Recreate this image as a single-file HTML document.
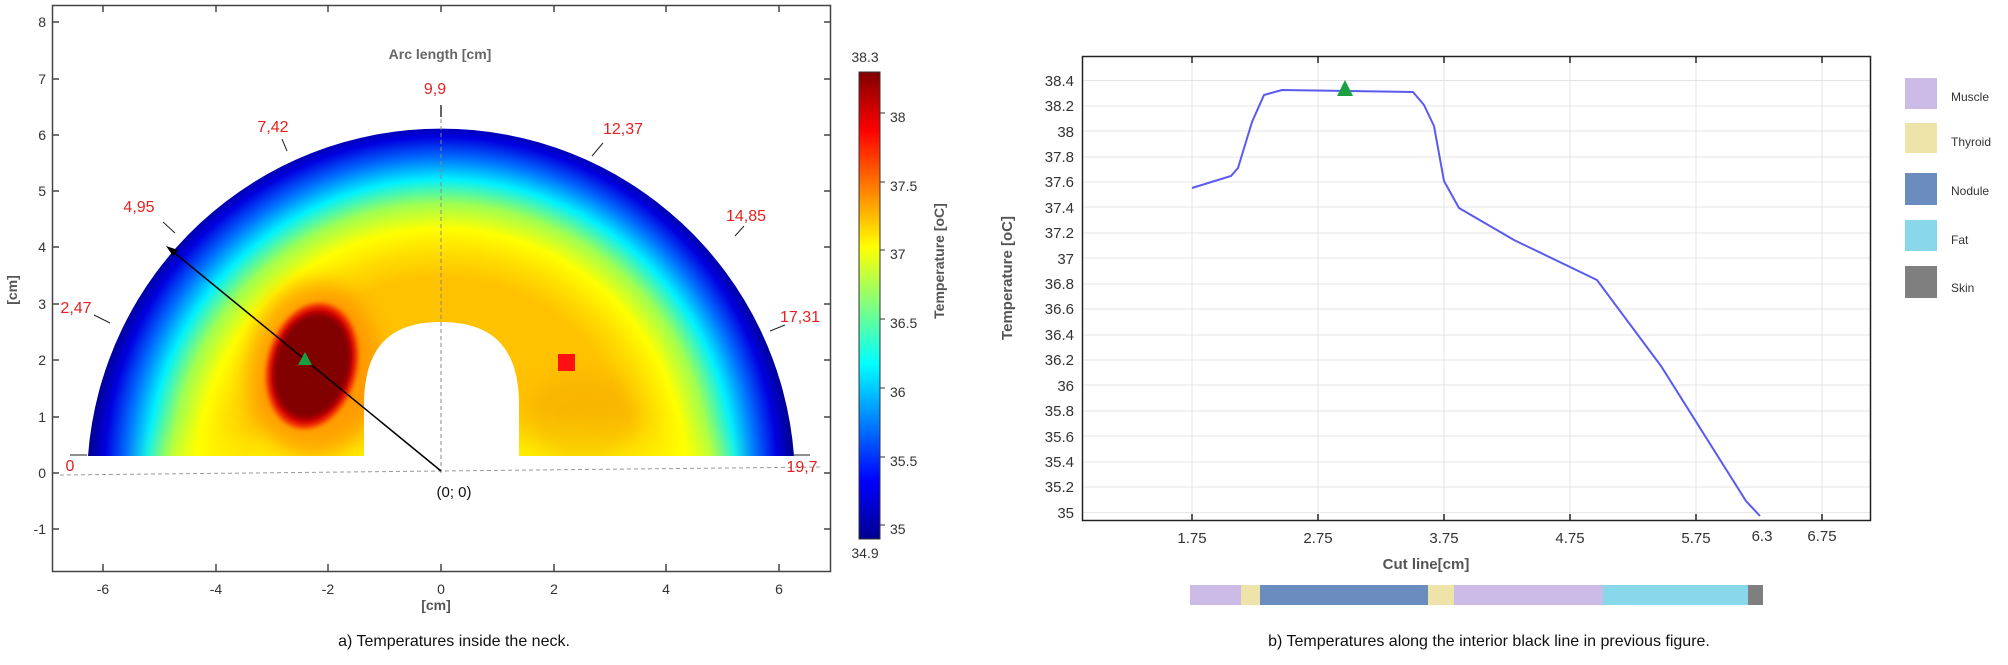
<!DOCTYPE html>
<html><head><meta charset="utf-8"><style>
html,body{margin:0;padding:0;background:#fff}
svg text{font-family:"Liberation Sans",sans-serif}
</style></head><body>
<svg width="2008" height="660" viewBox="0 0 2008 660" xmlns="http://www.w3.org/2000/svg">
<defs>
<radialGradient id="rg" gradientUnits="userSpaceOnUse" cx="441" cy="473" r="354">
<stop offset="0" stop-color="#ffc000"/>
<stop offset="0.55" stop-color="#ffc200"/>
<stop offset="0.62" stop-color="#ffdc00"/>
<stop offset="0.69" stop-color="#ffff00"/>
<stop offset="0.76" stop-color="#a0ff50"/>
<stop offset="0.83" stop-color="#00f0ff"/>
<stop offset="0.89" stop-color="#0070ff"/>
<stop offset="0.95" stop-color="#0000e0"/>
<stop offset="1" stop-color="#00008a"/>
</radialGradient>
<radialGradient id="nod">
<stop offset="0" stop-color="#800000"/>
<stop offset="0.8" stop-color="#820000"/>
<stop offset="0.9" stop-color="#e00000"/>
<stop offset="1" stop-color="#ff5000"/>
</radialGradient>
<linearGradient id="jet" x1="0" y1="1" x2="0" y2="0">
<stop offset="0" stop-color="#00008f"/>
<stop offset="0.125" stop-color="#0000ff"/>
<stop offset="0.375" stop-color="#00ffff"/>
<stop offset="0.625" stop-color="#ffff00"/>
<stop offset="0.875" stop-color="#ff0000"/>
<stop offset="1" stop-color="#800000"/>
</linearGradient>
<filter id="bl" x="-50%" y="-50%" width="200%" height="200%"><feGaussianBlur stdDeviation="10"/></filter>
<filter id="bl3" x="-50%" y="-50%" width="200%" height="200%"><feGaussianBlur stdDeviation="18"/></filter>
<filter id="bl2" x="-50%" y="-50%" width="200%" height="200%"><feGaussianBlur stdDeviation="2"/></filter>
<clipPath id="cp"><path d="M88,456 A354,354 0 0 1 794,456 Z"/></clipPath>
</defs>

<!-- Left plot -->
<rect x="52.5" y="5.5" width="778" height="566" fill="none" stroke="#444" stroke-width="1.5"/>
<g stroke="#444" stroke-width="1.5">
<line x1="103" y1="571" x2="103" y2="564"/><line x1="216" y1="571" x2="216" y2="564"/><line x1="328" y1="571" x2="328" y2="564"/><line x1="441" y1="571" x2="441" y2="564"/><line x1="554" y1="571" x2="554" y2="564"/><line x1="666" y1="571" x2="666" y2="564"/><line x1="779" y1="571" x2="779" y2="564"/>
<line x1="103" y1="5" x2="103" y2="12"/><line x1="216" y1="5" x2="216" y2="12"/><line x1="328" y1="5" x2="328" y2="12"/><line x1="441" y1="5" x2="441" y2="12"/><line x1="554" y1="5" x2="554" y2="12"/><line x1="666" y1="5" x2="666" y2="12"/><line x1="779" y1="5" x2="779" y2="12"/>
</g>
<g stroke="#444" stroke-width="1.5">
<line x1="52" y1="22" x2="59" y2="22"/><line x1="52" y1="79" x2="59" y2="79"/><line x1="52" y1="135" x2="59" y2="135"/><line x1="52" y1="191" x2="59" y2="191"/><line x1="52" y1="247" x2="59" y2="247"/><line x1="52" y1="304" x2="59" y2="304"/><line x1="52" y1="360" x2="59" y2="360"/><line x1="52" y1="417" x2="59" y2="417"/><line x1="52" y1="473" x2="59" y2="473"/><line x1="52" y1="529" x2="59" y2="529"/>
<line x1="831" y1="22" x2="824" y2="22"/><line x1="831" y1="79" x2="824" y2="79"/><line x1="831" y1="135" x2="824" y2="135"/><line x1="831" y1="191" x2="824" y2="191"/><line x1="831" y1="247" x2="824" y2="247"/><line x1="831" y1="304" x2="824" y2="304"/><line x1="831" y1="360" x2="824" y2="360"/><line x1="831" y1="417" x2="824" y2="417"/><line x1="831" y1="473" x2="824" y2="473"/><line x1="831" y1="529" x2="824" y2="529"/>
</g>
<g font-size="14" fill="#333" text-anchor="end">
<text x="46" y="27">8</text><text x="46" y="84">7</text><text x="46" y="140">6</text><text x="46" y="196">5</text><text x="46" y="252">4</text><text x="46" y="309">3</text><text x="46" y="365">2</text><text x="46" y="422">1</text><text x="46" y="478">0</text><text x="46" y="534">-1</text>
</g>
<g font-size="14" fill="#333" text-anchor="middle">
<text x="103" y="594">-6</text><text x="216" y="594">-4</text><text x="328" y="594">-2</text><text x="441" y="594">0</text><text x="554" y="594">2</text><text x="666" y="594">4</text><text x="779" y="594">6</text>
</g>
<text x="436" y="610" font-size="14" font-weight="bold" fill="#555" text-anchor="middle">[cm]</text>
<text transform="translate(17,290) rotate(-90)" font-size="14" font-weight="bold" fill="#555" text-anchor="middle">[cm]</text>

<g clip-path="url(#cp)">
<rect x="80" y="100" width="730" height="360" fill="url(#rg)"/>
<ellipse cx="441" cy="462" rx="290" ry="30" fill="#ffff00" opacity="0.8" filter="url(#bl3)"/>
<ellipse cx="582" cy="417" rx="55" ry="45" fill="#f0a000" opacity="0.35" filter="url(#bl)"/>
<ellipse cx="315" cy="370" rx="66" ry="88" fill="#ff8000" opacity="0.6" filter="url(#bl)"/>
<ellipse cx="312" cy="366" rx="45" ry="64" transform="rotate(14 312 366)" fill="url(#nod)" filter="url(#bl2)"/>
</g>
<path d="M364,457 L364,405 C364,345 392,322 441,322 C490,322 519,345 519,405 L519,457 Z" fill="#fff"/>

<line x1="441" y1="473" x2="441" y2="105" stroke="#888" stroke-width="1" stroke-dasharray="4,3"/>
<line x1="60" y1="475" x2="822" y2="467" stroke="#999" stroke-width="1" stroke-dasharray="4,3"/>
<line x1="441" y1="105" x2="441" y2="117" stroke="#000" stroke-width="1.2"/>
<line x1="441" y1="471" x2="171" y2="250" stroke="#000" stroke-width="1.5"/>
<polygon points="166,246 178,250 173,256" fill="#000"/>
<g stroke="#222" stroke-width="1">
<line x1="282" y1="139" x2="287" y2="151"/><line x1="163" y1="222" x2="175" y2="233"/><line x1="94" y1="315" x2="110" y2="323"/>
<line x1="603" y1="143" x2="592" y2="156"/><line x1="744" y1="226" x2="735" y2="236"/><line x1="785" y1="325" x2="770" y2="331"/>
<line x1="70" y1="455" x2="87" y2="455"/><line x1="794" y1="455" x2="810" y2="455"/>
</g>
<g font-size="16" fill="#e62020">
<text x="435" y="94" text-anchor="middle">9,9</text>
<text x="273" y="132" text-anchor="middle">7,42</text>
<text x="623" y="134" text-anchor="middle">12,37</text>
<text x="139" y="212" text-anchor="middle">4,95</text>
<text x="746" y="221" text-anchor="middle">14,85</text>
<text x="800" y="322" text-anchor="middle">17,31</text>
<text x="76" y="313" text-anchor="middle">2,47</text>
<text x="70" y="471" text-anchor="middle">0</text>
<text x="802" y="472" text-anchor="middle">19,7</text>
</g>
<text x="454" y="497" font-size="15" fill="#111" text-anchor="middle">(0; 0)</text>
<text x="440" y="59" font-size="14" font-weight="bold" fill="#666" text-anchor="middle">Arc length [cm]</text>
<polygon points="305,352 298,365 312,365" fill="#1aa040"/>
<rect x="558" y="354" width="17" height="17" fill="#ff1010"/>

<!-- colorbar -->
<rect x="859" y="72" width="21" height="467" fill="url(#jet)" stroke="#333" stroke-width="1"/>
<text x="865" y="62" font-size="14" fill="#333" text-anchor="middle">38.3</text>
<text x="865" y="558" font-size="14" fill="#333" text-anchor="middle">34.9</text>
<g stroke="#333" stroke-width="1"><line x1="880" y1="113" x2="885" y2="113"/><line x1="880" y1="182" x2="885" y2="182"/><line x1="880" y1="250" x2="885" y2="250"/><line x1="880" y1="319" x2="885" y2="319"/><line x1="880" y1="388" x2="885" y2="388"/><line x1="880" y1="457" x2="885" y2="457"/><line x1="880" y1="525" x2="885" y2="525"/></g>
<g font-size="14" fill="#333">
<text x="890" y="122">38</text><text x="890" y="191">37.5</text><text x="890" y="259">37</text><text x="890" y="328">36.5</text><text x="890" y="397">36</text><text x="890" y="466">35.5</text><text x="890" y="534">35</text>
</g>
<text transform="translate(944,261) rotate(-90)" font-size="14" font-weight="bold" fill="#555" text-anchor="middle">Temperature [oC]</text>

<text x="454" y="646" font-size="16" fill="#111" text-anchor="middle">a) Temperatures inside the neck.</text>

<!-- Right plot -->
<g stroke="#e4e4e4" stroke-width="1">
<line x1="1192" y1="56" x2="1192" y2="521"/><line x1="1318" y1="56" x2="1318" y2="521"/><line x1="1444" y1="56" x2="1444" y2="521"/><line x1="1570" y1="56" x2="1570" y2="521"/><line x1="1696" y1="56" x2="1696" y2="521"/><line x1="1822" y1="56" x2="1822" y2="521"/>
<line x1="1082" y1="80.5" x2="1871" y2="80.5"/><line x1="1082" y1="106" x2="1871" y2="106"/><line x1="1082" y1="131" x2="1871" y2="131"/><line x1="1082" y1="157" x2="1871" y2="157"/><line x1="1082" y1="182" x2="1871" y2="182"/><line x1="1082" y1="207" x2="1871" y2="207"/><line x1="1082" y1="233" x2="1871" y2="233"/><line x1="1082" y1="258" x2="1871" y2="258"/><line x1="1082" y1="284" x2="1871" y2="284"/><line x1="1082" y1="309" x2="1871" y2="309"/><line x1="1082" y1="335" x2="1871" y2="335"/><line x1="1082" y1="360" x2="1871" y2="360"/><line x1="1082" y1="385" x2="1871" y2="385"/><line x1="1082" y1="411" x2="1871" y2="411"/><line x1="1082" y1="436" x2="1871" y2="436"/><line x1="1082" y1="462" x2="1871" y2="462"/><line x1="1082" y1="487" x2="1871" y2="487"/><line x1="1082" y1="512.6" x2="1871" y2="512.6"/>
</g>
<rect x="1082.5" y="56.5" width="788" height="464" fill="none" stroke="#222" stroke-width="1.5"/>
<g stroke="#222" stroke-width="1.5">
<line x1="1192" y1="521" x2="1192" y2="514"/><line x1="1318" y1="521" x2="1318" y2="514"/><line x1="1444" y1="521" x2="1444" y2="514"/><line x1="1570" y1="521" x2="1570" y2="514"/><line x1="1696" y1="521" x2="1696" y2="514"/><line x1="1822" y1="521" x2="1822" y2="514"/>
<line x1="1192" y1="56" x2="1192" y2="63"/><line x1="1318" y1="56" x2="1318" y2="63"/><line x1="1444" y1="56" x2="1444" y2="63"/><line x1="1570" y1="56" x2="1570" y2="63"/><line x1="1696" y1="56" x2="1696" y2="63"/><line x1="1822" y1="56" x2="1822" y2="63"/>
</g>
<g font-size="15" fill="#333" text-anchor="end">
<text x="1074" y="86">38.4</text><text x="1074" y="111">38.2</text><text x="1074" y="137">38</text><text x="1074" y="162">37.8</text><text x="1074" y="187">37.6</text><text x="1074" y="213">37.4</text><text x="1074" y="238">37.2</text><text x="1074" y="264">37</text><text x="1074" y="289">36.8</text><text x="1074" y="314">36.6</text><text x="1074" y="340">36.4</text><text x="1074" y="365">36.2</text><text x="1074" y="391">36</text><text x="1074" y="416">35.8</text><text x="1074" y="442">35.6</text><text x="1074" y="467">35.4</text><text x="1074" y="492">35.2</text><text x="1074" y="518">35</text>
</g>
<g font-size="15" fill="#333" text-anchor="middle">
<text x="1192" y="543">1.75</text><text x="1318" y="543">2.75</text><text x="1444" y="543">3.75</text><text x="1570" y="543">4.75</text><text x="1696" y="543">5.75</text><text x="1762" y="541">6.3</text><text x="1822" y="541">6.75</text>
</g>
<text x="1426" y="569" font-size="15" font-weight="bold" fill="#555" text-anchor="middle">Cut line[cm]</text>
<text transform="translate(1012,278) rotate(-90)" font-size="15" font-weight="bold" fill="#555" text-anchor="middle">Temperature [oC]</text>
<polyline fill="none" stroke="#5a5af0" stroke-width="2" points="1192,188 1231,176 1238,168 1252,122 1264,95 1282,90 1413,92 1424,105 1434,126 1444,181 1459,208 1514,240 1597,280 1661,366 1746,501 1760,516"/>
<polygon points="1345,80 1337,96 1353,96" fill="#1aa040"/>

<!-- legend -->
<rect x="1905" y="78" width="32" height="31" fill="#cbbbe6"/>
<rect x="1905" y="123" width="32" height="30" fill="#eee4aa"/>
<rect x="1905" y="173" width="32" height="32" fill="#6a8cbe"/>
<rect x="1905" y="220" width="32" height="31" fill="#88d8ea"/>
<rect x="1905" y="266" width="32" height="32" fill="#7f7f7f"/>
<g font-size="12" fill="#333">
<text x="1951" y="101">Muscle</text><text x="1951" y="146">Thyroid</text><text x="1951" y="195">Nodule</text><text x="1951" y="244">Fat</text><text x="1951" y="292">Skin</text>
</g>

<!-- material bar -->
<rect x="1190" y="585" width="51" height="20" fill="#cbbbe6"/>
<rect x="1241" y="585" width="19" height="20" fill="#eee4aa"/>
<rect x="1260" y="585" width="168" height="20" fill="#6a8cbe"/>
<rect x="1428" y="585" width="26" height="20" fill="#eee4aa"/>
<rect x="1454" y="585" width="149" height="20" fill="#cbbbe6"/>
<rect x="1603" y="585" width="145" height="20" fill="#88d8ea"/>
<rect x="1748" y="585" width="15" height="20" fill="#7f7f7f"/>

<text x="1489" y="646" font-size="16" fill="#111" text-anchor="middle">b) Temperatures along the interior black line in previous figure.</text>
</svg>
</body></html>
